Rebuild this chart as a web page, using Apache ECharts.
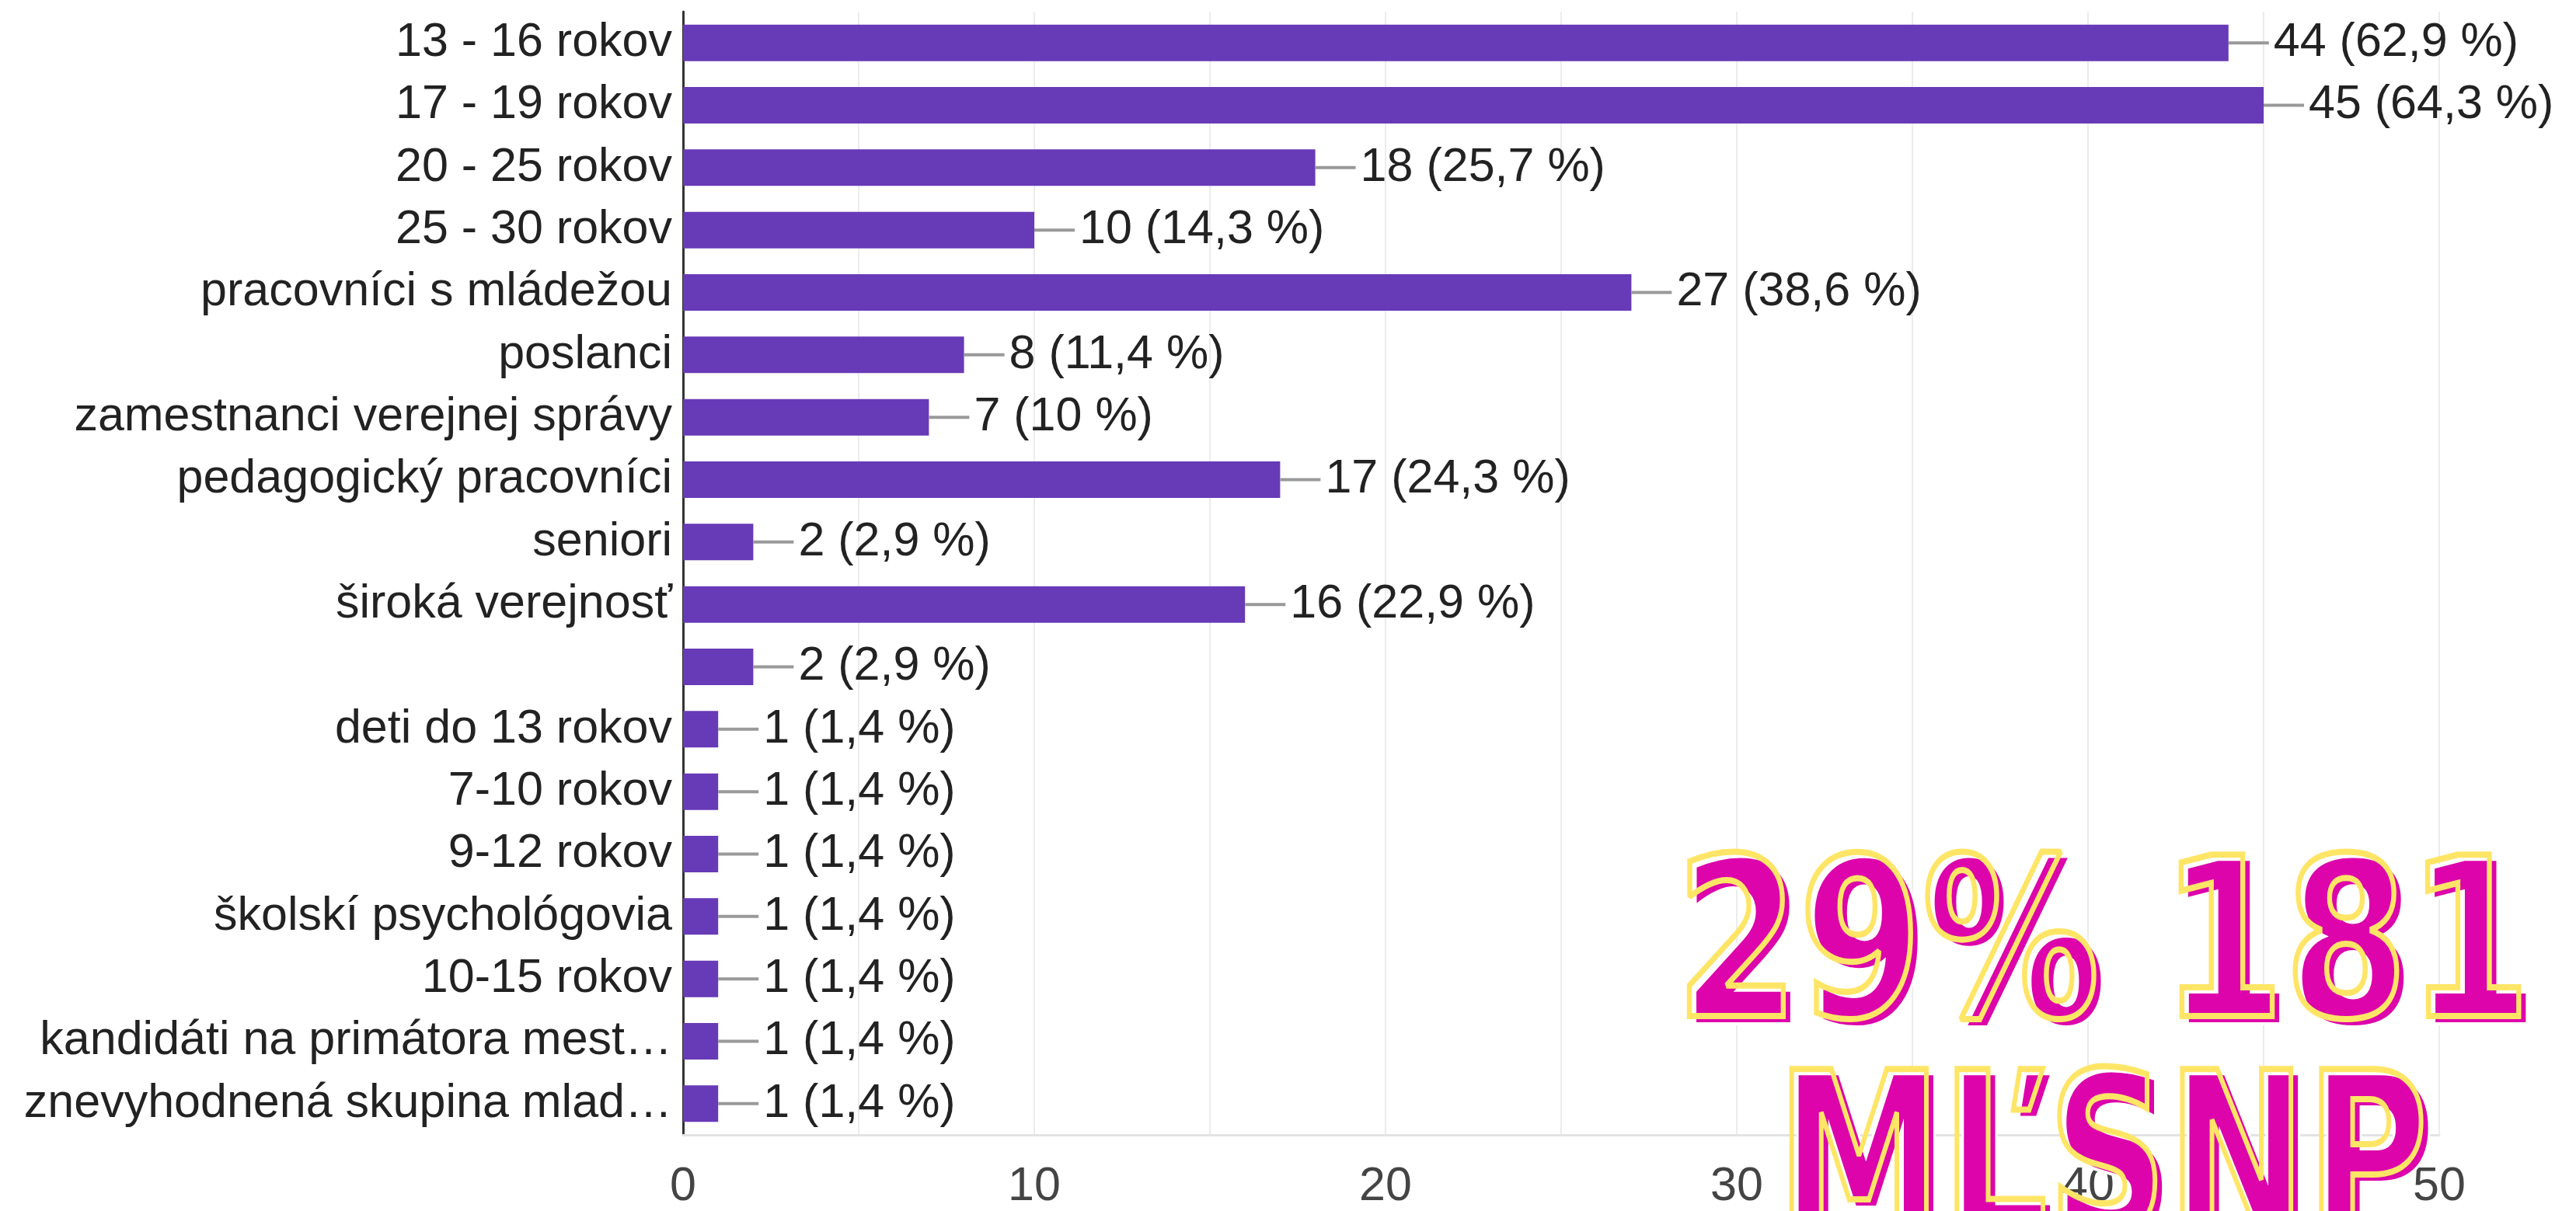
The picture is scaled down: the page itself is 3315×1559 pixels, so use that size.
<!DOCTYPE html>
<html>
<head>
<meta charset="utf-8">
<script src="https://cdn.jsdelivr.net/npm/echarts@6/dist/echarts.min.js"></script>
<style>
html,body{margin:0;padding:0;background:#fff;}
#chart{width:3315px;height:1559px;}
</style>
</head>
<body>
<div id="chart"></div>
<script>
// kategórie (zhora nadol)
var categories = [
    "13 - 16 rokov",
    "17 - 19 rokov",
    "20 - 25 rokov",
    "25 - 30 rokov",
    "pracovníci s mládežou",
    "poslanci",
    "zamestnanci verejnej správy",
    "pedagogický pracovníci",
    "seniori",
    "široká verejnosť",
    "",
    "deti do 13 rokov",
    "7-10 rokov",
    "9-12 rokov",
    "školskí psychológovia",
    "10-15 rokov",
    "kandidáti na primátora mest…",
    "znevyhodnená skupina mlad…"
];
var counts = [44, 45, 18, 10, 27, 8, 7, 17, 2, 16, 2, 1, 1, 1, 1, 1, 1, 1];
var percents = ["62,9", "64,3", "25,7", "14,3", "38,6", "11,4", "10", "24,3", "2,9", "22,9", "2,9", "1,4", "1,4", "1,4", "1,4", "1,4", "1,4", "1,4"];
var xTicks = [0, 10, 20, 30, 40, 50];
var overlayLines = ["29% 181", "MĽSNP"];

var font = "Liberation Sans, Arial, sans-serif";
var bigFont = "bold 285px 'DejaVu Sans', sans-serif";

//nápis cez graf: ružová výplň + žltý obrys posunutý hore vľavo
function overlayText(txt, x, y, sx) {
    return [
        {type: "text", x: x, y: y, scaleX: sx, z: 100,
         style: {text: txt, x: 0, y: 0, verticalAlign: "middle", font: bigFont,
                 fill: "#dc04aa", stroke: "#fff", lineWidth: 8}},
        {type: "text", x: x - 9, y: y - 8, scaleX: sx, z: 101,
         style: {text: txt, x: 0, y: 0, verticalAlign: "middle", font: bigFont,
                 fill: "transparent", stroke: "#ffe566", lineWidth: 8}}
    ];
}

var chart = echarts.init(document.getElementById("chart"));
var option = {
    backgroundColor: "#fff",
    animation: false,
    grid: {
        left: 879,
        right: 176,
        top: 15,
        bottom: 94
    },
    xAxis: {
        type: "value",
        min: 0,
        max: 50,
        interval: 5,
        axisLine: {show: true, lineStyle: {color: "#e3e3e3", width: 3}},
        axisTick: {show: false},
        splitLine: {show: true, lineStyle: {color: "#ececec", width: 2}},
        axisLabel: {
            margin: 37,
            color: "#444",
            fontSize: 61,
            fontFamily: font,
            formatter: function (v) {
                return xTicks.indexOf(v) >= 0 ? String(v) : "";
            }
        }
    },
    yAxis: {
        type: "category",
        inverse: true,
        data: categories,
        axisLine: {show: true, lineStyle: {color: "#333", width: 3}},
        axisTick: {show: false},
        splitLine: {show: false},
        axisLabel: {
            interval: 0,
            margin: 14,
            color: "#222",
            fontSize: 61,
            fontFamily: font
        }
    },
    series: [{
        type: "bar",
        data: counts,
        barWidth: 47,
        itemStyle: {color: "#673ab7"},
        z: 3,
        label: {
            show: true,
            position: "right",
            distance: 0,
            fontSize: 61,
            fontFamily: font,
            color: "#222",
            formatter: function (p) {
                return "{l|}{t|" + counts[p.dataIndex] + " (" + percents[p.dataIndex] + " %)}";
            },
            rich: {
                l: {width: 52, height: 4, backgroundColor: "#999"},
                t: {fontSize: 61, fontFamily: font, color: "#222", padding: [0, 0, 0, 6]}
            }
        }
    }],
    graphic: overlayText(overlayLines[0], 2165, 1242, 0.80)
        .concat(overlayText(overlayLines[1], 2295, 1518, 0.75))
};
chart.setOption(option);
</script>
</body>
</html>
